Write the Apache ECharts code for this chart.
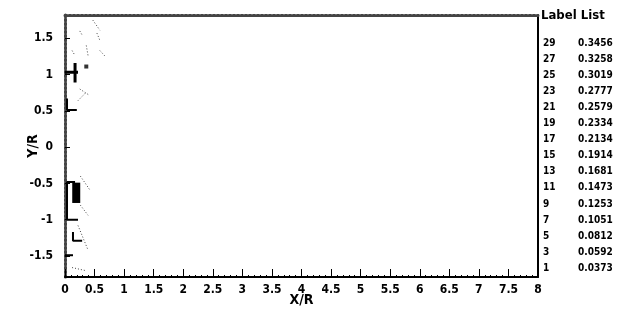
<!DOCTYPE html>
<html>
<head>
<meta charset="utf-8">
<script src="https://cdn.jsdelivr.net/npm/echarts@6/dist/echarts.min.js"></script>
<style>
  html, body { margin: 0; padding: 0; background: #fff; }
  #chart { width: 618px; height: 327px; }
</style>
</head>
<body>
<div id="chart"></div>
<script>
// Contour level legend
const levelNumbers = [29, 27, 25, 23, 21, 19, 17, 15, 13, 11, 9, 7, 5, 3, 1];
const levelValues = ['0.3456', '0.3258', '0.3019', '0.2777', '0.2579', '0.2334', '0.2134',
                     '0.1914', '0.1681', '0.1473', '0.1253', '0.1051', '0.0812', '0.0592', '0.0373'];

// Axis ticks
const xTicks = [0, 0.5, 1, 1.5, 2, 2.5, 3, 3.5, 4, 4.5, 5, 5.5, 6, 6.5, 7, 7.5, 8];
const yTicks = [-1.5, -1, -0.5, 0, 0.5, 1, 1.5];

// Solid contour pieces (X/R, Y/R)
const crossH = [[0.0, 1.03], [0.22, 1.03]];
const crossV = [[0.17, 1.16], [0.17, 0.89]];
const upperBracket = [[0.034, 0.67], [0.034, 0.51], [0.2, 0.51]];
const lowerBracket = [[0.17, -0.48], [0.034, -0.48], [0.034, -1.0], [0.22, -1.0]];
const lowerBlob = [[0.19, -0.49], [0.19, -0.77]];
const smallHook = [[0.135, -1.17], [0.135, -1.29], [0.29, -1.29]];
const bottomStub = [[0.0, -1.49], [0.135, -1.49]];
const squareMarks = [[0.36, 1.11]];

// Dotted contour pieces
const dottedPieces = [
  [[0.47, 1.75], [0.59, 1.61]],
  [[0.54, 1.57], [0.59, 1.47]],
  [[0.25, 1.6], [0.3, 1.53]],
  [[0.36, 1.4], [0.39, 1.26]],
  [[0.59, 1.33], [0.68, 1.25]],
  [[0.12, 1.33], [0.17, 1.26]],
  [[0.25, 0.8], [0.42, 0.71]],
  [[0.22, 0.64], [0.34, 0.74]],
  [[0.26, -0.4], [0.42, -0.59]],
  [[0.26, -0.8], [0.39, -0.94]],
  [[0.22, -1.08], [0.39, -1.42]],
  [[0.12, -1.66], [0.34, -1.7]]
];

function solid(data, width) {
  return {
    type: 'line', data: data, symbol: 'none', silent: true,
    lineStyle: { color: '#000', width: width || 2 }, z: 5
  };
}

const series = [
  solid(crossH, 3),
  solid(crossV, 3),
  solid(upperBracket, 2),
  solid(lowerBracket, 2),
  solid(lowerBlob, 8),
  solid(smallHook, 2),
  solid(bottomStub, 2),
  {
    type: 'scatter', data: squareMarks, symbol: 'rect', symbolSize: 4,
    itemStyle: { color: '#000' }, silent: true
  }
];
dottedPieces.forEach(function (p) {
  series.push({
    type: 'line', data: p, symbol: 'none', silent: true,
    lineStyle: { color: '#444', width: 1, type: [1, 2] }
  });
});

const fontStack = "'DejaVu Sans Condensed', 'Liberation Sans Narrow', 'Liberation Sans', sans-serif";

// Legend drawn as text blocks on the right
const legendTop = 43, legendStep = 16.1;
const graphic = [{
  type: 'text', left: 541, top: 9,
  style: { text: 'Label List', fill: '#000', font: 'bold 13px ' + fontStack }
}];
levelNumbers.forEach(function (lv, i) {
  const y = legendTop + i * legendStep;
  graphic.push({
    type: 'text', x: 543, y: y,
    style: { text: String(lv), fill: '#000', font: 'bold 10px ' + fontStack, verticalAlign: 'middle' }
  });
  graphic.push({
    type: 'text', x: 578, y: y,
    style: { text: levelValues[i], fill: '#000', font: 'bold 10px ' + fontStack, verticalAlign: 'middle' }
  });
});

const hatched = { color: '#444', width: 3, type: [2, 2] };

const chart = echarts.init(document.getElementById('chart'), null, { renderer: 'canvas' });
chart.setOption({
  animation: false,
  backgroundColor: '#fff',
  textStyle: { fontFamily: fontStack },
  grid: { left: 65, right: 80, top: 15, bottom: 50 },
  xAxis: [{
    type: 'value', min: 0, max: 8, interval: 0.5,
    name: 'X/R', nameLocation: 'middle', nameGap: 16, nameMoveOverlap: false,
    nameTextStyle: { fontSize: 14, fontWeight: 'bold', color: '#000' },
    axisLine: { onZero: false, lineStyle: { color: '#000', width: 2 } },
    axisTick: { inside: true, length: 8, lineStyle: { color: '#000', width: 1 } },
    minorTick: { show: true, splitNumber: 5, length: 2, lineStyle: { color: '#000', width: 1 } },
    axisLabel: {
      color: '#000', fontSize: 12, fontWeight: 'bold', margin: 7,
      customValues: xTicks,
      formatter: function (v) { return String(v); }
    },
    splitLine: { show: false }
  }, {
    type: 'value', min: 0, max: 8, position: 'top',
    axisLine: { show: true, onZero: false, lineStyle: hatched },
    axisTick: { show: false }, axisLabel: { show: false }, splitLine: { show: false }
  }],
  yAxis: [{
    type: 'value', min: -1.79, max: 1.82,
    name: 'Y/R', nameLocation: 'middle', nameGap: 25, nameMoveOverlap: false,
    nameTextStyle: { fontSize: 14, fontWeight: 'bold', color: '#000' },
    axisLine: { show: true, onZero: false, lineStyle: hatched },
    axisTick: { show: true, inside: true, length: 5, customValues: yTicks, lineStyle: { color: '#000' } },
    axisLabel: {
      color: '#000', fontSize: 12, fontWeight: 'bold', margin: 12,
      customValues: yTicks,
      formatter: function (v) { return String(v); }
    },
    splitLine: { show: false }
  }, {
    type: 'value', min: -1.79, max: 1.82, position: 'right',
    axisLine: { show: true, onZero: false, lineStyle: { color: '#000', width: 2 } },
    axisTick: { show: false }, axisLabel: { show: false }, splitLine: { show: false }
  }],
  series: series,
  graphic: graphic
});
</script>
</body>
</html>
